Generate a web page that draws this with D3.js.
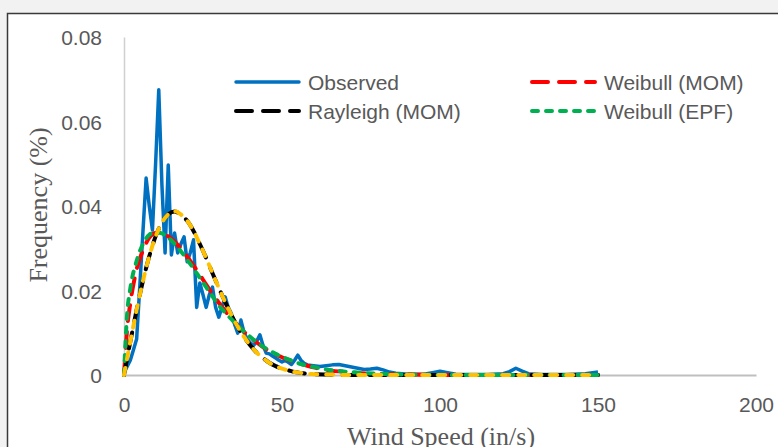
<!DOCTYPE html>
<html>
<head>
<meta charset="utf-8">
<script src="https://cdn.jsdelivr.net/npm/d3@7/dist/d3.min.js"></script>
<style>
  html, body { margin: 0; padding: 0; background: #f2f2f2; }
  svg { display: block; }
</style>
</head>
<body>
<svg id="chart" width="778" height="447"></svg>
<script>
// Observed frequency of wind speed (in/s)
const obsX = [0, 1, 2, 3, 4, 5, 6, 7, 8, 9, 10, 11, 12, 13, 14, 15, 16, 17, 18, 19,
  20, 21, 22, 23, 24, 25, 26, 27, 28, 29, 30, 31, 32, 33, 34, 35, 36, 37, 38, 39,
  40, 41, 42, 43, 44, 45, 46, 47, 48, 49, 50, 51, 52, 53, 54, 55, 56, 57, 58,
  60, 62, 64, 66, 68, 70, 72, 74, 76, 78, 80, 82, 84, 86, 88, 90, 95, 98, 100,
  102, 105, 110, 115, 120, 122, 124, 126, 128, 132, 140, 146, 150];
const obsY = [0.0005, 0.002, 0.0035, 0.006, 0.0085, 0.021, 0.034, 0.0466, 0.040, 0.0343,
  0.050, 0.0675, 0.045, 0.0289, 0.0497, 0.0284, 0.0336, 0.0289, 0.031, 0.0327,
  0.0268, 0.029, 0.032, 0.016, 0.0218, 0.019, 0.016, 0.019, 0.0208, 0.016,
  0.0137, 0.016, 0.0185, 0.016, 0.0145, 0.012, 0.0099, 0.013, 0.010, 0.0085,
  0.0076, 0.007, 0.008, 0.0095, 0.007, 0.0052, 0.005, 0.0045, 0.004, 0.0035,
  0.0031, 0.0035, 0.003, 0.0025, 0.0035, 0.0047, 0.0035, 0.0028, 0.0024,
  0.0022, 0.002, 0.0022, 0.0024, 0.0025, 0.0022, 0.0019, 0.0016, 0.0013, 0.0014,
  0.0016, 0.0012, 0.0007, 0.0004, 0.0003, 0.0002, 0.0002, 0.0006, 0.0009,
  0.0006, 0.0002, 0.0001, 0.0001, 0.0003, 0.0008, 0.0016, 0.0009, 0.0003, 0.0001,
  0.0001, 0.0003, 0.0007];

// Wind speeds at which the fitted distributions are tabulated
const fitX = [0, 1, 2, 4, 6, 8, 10, 12, 14, 16, 18, 20, 22, 24, 26, 28, 30, 32, 34, 36,
  38, 40, 42, 44, 46, 48, 50, 52, 54, 56, 58, 60, 65, 70, 75, 80, 90, 100, 110,
  120, 130, 140, 150];

const weibullMom = [0, 0.011, 0.017, 0.025, 0.0295, 0.0325, 0.0336, 0.0336, 0.0328, 0.0316,
  0.0299, 0.028, 0.0259, 0.0237, 0.0214, 0.0192, 0.0171, 0.0152, 0.0134, 0.0117,
  0.0102, 0.0089, 0.0077, 0.0066, 0.0057, 0.0049, 0.0042, 0.0036, 0.003, 0.0026,
  0.0022, 0.0018, 0.0011, 0.0007, 0.0004, 0.0002, 0.0001, 0, 0, 0, 0, 0, 0];

const rayleighMom = [0, 0.0040, 0.0079, 0.0154, 0.0223, 0.0281, 0.0328, 0.0361, 0.0380, 0.0387,
  0.0379, 0.0365, 0.0341, 0.0310, 0.0277, 0.0241, 0.0206, 0.0173, 0.0142, 0.0114,
  0.0090, 0.0070, 0.0053, 0.0040, 0.0029, 0.0021, 0.0015, 0.0011, 0.0007, 0.0005,
  0.0003, 0.0002, 0.0001, 0, 0, 0, 0, 0, 0, 0, 0, 0, 0];

const weibullEpf = [0, 0.0145, 0.0205, 0.027, 0.031, 0.0332, 0.0338, 0.0335, 0.0325, 0.0311,
  0.0293, 0.0273, 0.0252, 0.023, 0.0208, 0.0186, 0.0165, 0.0148, 0.0132, 0.0117,
  0.0103, 0.009, 0.0078, 0.0067, 0.0058, 0.005, 0.0043, 0.0037, 0.0031, 0.0026,
  0.0022, 0.0019, 0.0012, 0.0008, 0.0005, 0.0003, 0.0001, 0, 0, 0, 0, 0, 0];

const rayleighEpf = [0, 0.0040, 0.0079, 0.0154, 0.0223, 0.0281, 0.0328, 0.0361, 0.0380, 0.0388,
  0.0380, 0.0365, 0.0341, 0.0310, 0.0277, 0.0241, 0.0206, 0.0173, 0.0142, 0.0114,
  0.0090, 0.0070, 0.0053, 0.0040, 0.0029, 0.0021, 0.0015, 0.0011, 0.0007, 0.0005,
  0.0003, 0.0002, 0.0001, 0, 0, 0, 0, 0, 0, 0, 0, 0, 0];

const xTicks = [0, 50, 100, 150, 200];
const yTicks = [0, 0.02, 0.04, 0.06, 0.08];
const yTickLabels = ["0", "0.02", "0.04", "0.06", "0.08"];

const svg = d3.select("#chart");

// chart frame
svg.append("rect")
  .attr("x", 7.5).attr("y", 13.5)
  .attr("width", 800).attr("height", 460)
  .attr("fill", "#ffffff")
  .attr("stroke", "#3a3a3a")
  .attr("stroke-width", 1.5);

const x = d3.scaleLinear().domain([0, 200]).range([124, 756]);
const y = d3.scaleLinear().domain([0, 0.08]).range([375, 37]);

const tickFont = "'Liberation Sans', Arial, sans-serif";
const titleFont = "'Liberation Serif', 'Times New Roman', serif";
const textColor = "#595959";

// x axis
const xAxis = svg.append("g")
  .attr("transform", `translate(0,${y(0)})`)
  .call(d3.axisBottom(x).tickValues(xTicks).tickSize(0).tickPadding(22).tickFormat(d3.format("d")));
xAxis.select(".domain").attr("stroke", "#bfbfbf").attr("stroke-width", 2);
xAxis.selectAll("text")
  .attr("fill", textColor)
  .style("font-family", tickFont)
  .style("font-size", "21px");

// y axis
const yAxis = svg.append("g")
  .attr("transform", `translate(${x(0)},0)`)
  .call(d3.axisLeft(y).tickValues(yTicks).tickSize(0).tickPadding(22)
    .tickFormat((d, i) => yTickLabels[i]));
yAxis.select(".domain").attr("stroke", "#d0d0d0").attr("stroke-width", 1.5);
yAxis.selectAll("text")
  .attr("fill", textColor)
  .attr("dy", "0.36em")
  .style("font-family", tickFont)
  .style("font-size", "21px");

// axis titles
svg.append("text")
  .attr("x", 441).attr("y", 445)
  .attr("text-anchor", "middle")
  .attr("fill", textColor)
  .style("font-family", titleFont)
  .style("font-size", "26px")
  .text("Wind Speed (in/s)");

svg.append("text")
  .attr("transform", "translate(47,205) rotate(-90)")
  .attr("text-anchor", "middle")
  .attr("fill", textColor)
  .style("font-family", titleFont)
  .style("font-size", "26px")
  .text("Frequency (%)");

// series
const line = d3.line()
  .x(d => x(d[0]))
  .y(d => y(d[1]));

const fitLine = d3.line()
  .x(d => x(d[0]))
  .y(d => y(d[1]))
  .curve(d3.curveMonotoneX);

const plot = svg.append("g").attr("fill", "none");

plot.append("path")
  .attr("d", line(d3.zip(obsX, obsY)))
  .attr("stroke", "#0070c0")
  .attr("stroke-width", 3.5)
  .attr("stroke-linejoin", "round");

const fits = [
  { name: "Weibull (MOM)", values: weibullMom, color: "#ff0000", dash: "16,11" },
  { name: "Rayleigh (MOM)", values: rayleighMom, color: "#000000", dash: "16,11" },
  { name: "Weibull (EPF)", values: weibullEpf, color: "#00b050", dash: "6,8" },
  { name: "Rayleigh (EPF)", values: rayleighEpf, color: "#ffc000", dash: "7,9" }
];

fits.forEach(f => {
  plot.append("path")
    .attr("d", fitLine(d3.zip(fitX, f.values)))
    .attr("stroke", f.color)
    .attr("stroke-width", 4)
    .attr("stroke-linecap", "round")
    .attr("stroke-dasharray", f.dash);
});

// legend
const legendItems = [
  { label: "Observed", color: "#0070c0", dash: null, x: 234, y: 82 },
  { label: "Weibull (MOM)", color: "#ff0000", dash: "16,11", x: 530, y: 82 },
  { label: "Rayleigh (MOM)", color: "#000000", dash: "16,11", x: 234, y: 111 },
  { label: "Weibull (EPF)", color: "#00b050", dash: "6,8", x: 530, y: 111 }
];

const legend = svg.append("g");
legendItems.forEach(it => {
  const seg = legend.append("line")
    .attr("x1", it.x + 2).attr("x2", it.x + 65)
    .attr("y1", it.y).attr("y2", it.y)
    .attr("stroke", it.color)
    .attr("stroke-width", it.dash ? 4 : 3.5)
    .attr("stroke-linecap", "round");
  if (it.dash) seg.attr("stroke-dasharray", it.dash);
  legend.append("text")
    .attr("x", it.x + 74).attr("y", it.y)
    .attr("dy", "0.36em")
    .attr("fill", textColor)
    .style("font-family", tickFont)
    .style("font-size", "21px")
    .text(it.label);
});
</script>
</body>
</html>
